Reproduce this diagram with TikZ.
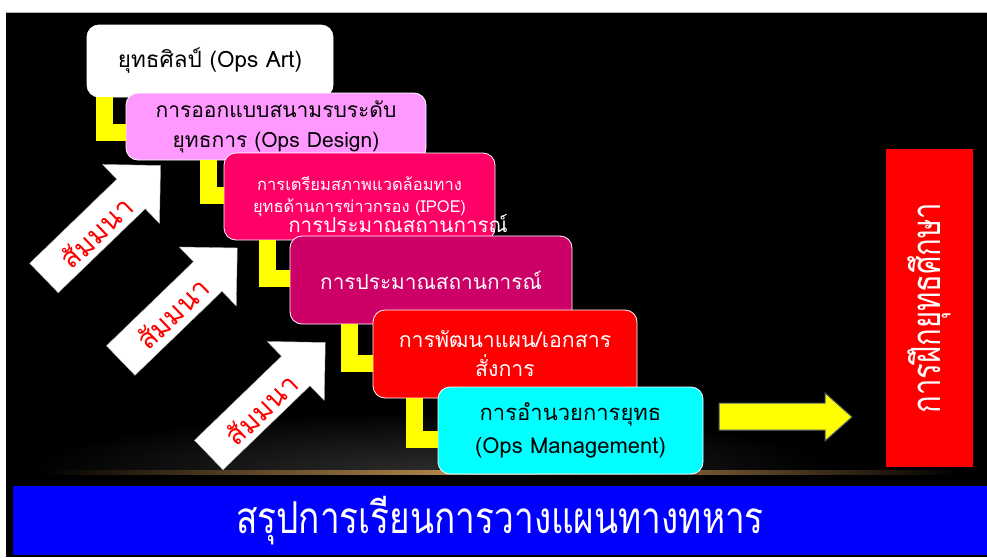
\documentclass[tikz,border=0pt]{standalone}
\usepackage{fontspec}
\setmainfont[Script=Thai]{Loma}
\newfontfamily\thainarrow[Script=Thai,FakeStretch=0.8]{Loma}
\newfontfamily\thainarrower[Script=Thai,FakeStretch=0.73]{Loma}
\usetikzlibrary{calc}
\definecolor{designpink}{HTML}{FF99FF}
\definecolor{ipoepink}{HTML}{FF0066}
\definecolor{estpink}{HTML}{CC0066}
\definecolor{opscyan}{HTML}{00FFFF}
\definecolor{opsyellow}{HTML}{FFFF00}
\definecolor{arrowrim}{HTML}{4A5A6A}
\tikzset{
  stage/.style={draw=white, line width=0.8pt, rounded corners=12pt, align=center, inner sep=2pt},
  elbow/.style={opsyellow, line width=17pt},
  semtext/.style={red, font=\fontsize{28}{30}\selectfont, rotate=44, inner sep=0pt},
}
\def\SemArrow#1{\filldraw[fill=white, draw=gray!60, shift={#1}, rotate=44]
  (-81,-20.5) -- (40,-20.5) -- (40,-41) -- (81,0) -- (40,41) -- (40,20.5) -- (-81,20.5) -- cycle;}

\begin{document}
\begin{tikzpicture}[x=1pt,y=-1pt]
\useasboundingbox (0,0) rectangle (987,557);
\fill[black] (6,12) rectangle (987,557);
\draw[gray!60, line width=0.8pt] (6,12) -- (987,12);
% glow on the floor
\begin{scope}
  \clip (6,400) rectangle (987,472);
  \shade[inner color=gray!35!black, outer color=black] (430,472) ellipse (400 and 60);
\end{scope}
\shade[left color=black, right color=black, middle color={rgb,255:red,200;green,150;blue,85}] (40,470.5) rectangle (960,474);

% seminar arrows
\SemArrow{(102.25,221.75)}
\SemArrow{(179,304.25)}
\SemArrow{(267,398.75)}
\node[semtext] (t1) at (96,232) {สัมมนา};
\node[semtext] (t2) at (172.5,313) {สัมมนา};
\node[semtext] (t3) at (261,409) {สัมมนา};

% stages
\node[stage, fill=white, minimum width=246pt, minimum height=72pt, font=\fontsize{22.5}{26}\selectfont] (b1) at (210,61) {ยุทธศิลป์ (Ops Art)};
\node[stage, fill=designpink, minimum width=300pt, minimum height=67pt, font=\fontsize{21}{30}\selectfont] (b2) at (276,126.5) {การออกแบบสนามรบระดับ\\ยุทธการ (Ops Design)};
\draw[elbow] ([yshift=-6pt]b2.west) -| ([xshift=-21pt]b2.west |- b1.south);
\node[stage, fill=ipoepink, text=white, minimum width=271pt, minimum height=87pt, font=\fontsize{16.5}{22}\selectfont] (b3) at (359.5,196.5) {การเตรียมสภาพแวดล้อมทาง\\ยุทธด้านการข่าวกรอง (IPOE)};
\draw[elbow] ([yshift=1.5pt]b3.west) -| ([xshift=-15pt]b3.west |- b2.south);
\node[white, inner sep=0pt, font=\fontsize{20.6}{24}\selectfont] (over) at (398,224) {การประมาณสถานการณ์};
\node[stage, fill=estpink, text=white, minimum width=282pt, minimum height=88pt, font=\fontsize{20.8}{24}\selectfont] (b4) at (431,280) {การประมาณสถานการณ์};
\draw[elbow] ([yshift=1.5pt]b4.west) -| ([xshift=-22pt]b4.west |- b3.south);
\node[stage, fill=red, text=white, minimum width=264pt, minimum height=88pt, font=\fontsize{21.3}{29}\selectfont] (b5) at (505,354) {การพัฒนาแผน/เอกสาร\\สั่งการ};
\draw[elbow] ([yshift=-9pt]b5.west) -| ([xshift=-23pt]b5.west |- b4.south);
\node[stage, fill=opscyan, minimum width=265pt, minimum height=87pt, font=\fontsize{22}{33}\selectfont] (b6) at (570.5,430.5) {การอำนวยการยุทธ\\(Ops Management)};
\draw[elbow] ([yshift=-9pt]b6.west) -| ([xshift=-23pt]b6.west |- b5.south);

% to the exercise
\filldraw[fill=opsyellow, draw=arrowrim, line width=1pt]
  (719,403) -- (825,403) -- (825,393) -- (852,417) -- (825,441) -- (825,430) -- (719,430) -- cycle;
\node[fill=red, text=white, rotate=90, minimum width=318pt, minimum height=87pt,
  font=\thainarrower\fontsize{40}{42}\selectfont] (drill) at (929.5,308) {การฝึกยุทธศึกษา};

\node[fill=blue, text=white, minimum width=974pt, minimum height=69pt, inner sep=0pt,
  font=\thainarrow\fontsize{44}{46}\selectfont] (sum) at (500,520.5) {สรุปการเรียนการวางแผนทางทหาร};
\end{tikzpicture}
\end{document}
